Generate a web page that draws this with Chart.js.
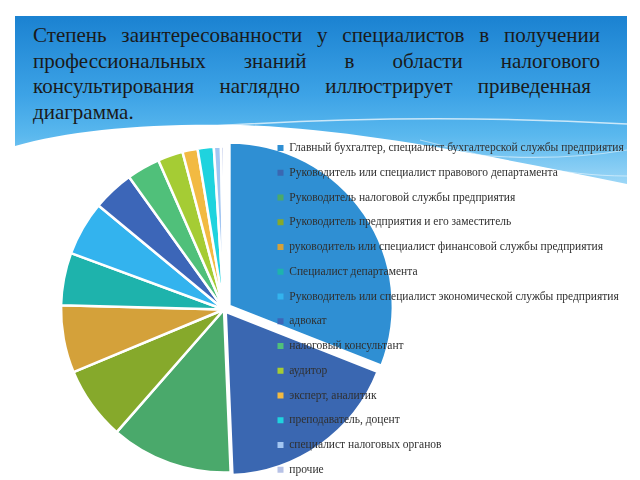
<!DOCTYPE html>
<html>
<head>
<meta charset="utf-8">
<script src="https://cdn.jsdelivr.net/npm/chart.js@4/dist/chart.umd.min.js"></script>
<style>
  html, body { margin: 0; padding: 0; width: 640px; height: 480px; overflow: hidden; background: #fff; }
  #bg { position: absolute; left: 0; top: 0; }
  #title { position: absolute; left: 33px; top: 23px; width: 567px; font-family: "Liberation Serif", "Times New Roman", serif; font-size: 21px; line-height: 25.7px; color: #1a1a1a; }
  #title div { text-align: justify; text-align-last: justify; white-space: nowrap; }
  #title div.last { text-align-last: left; }
  #chart { position: absolute; left: 0; top: 0; }
</style>
</head>
<body>
<svg id="bg" width="640" height="480">
  <defs>
    <linearGradient id="hg" gradientUnits="userSpaceOnUse" x1="0" y1="16" x2="0" y2="192">
      <stop offset="0" stop-color="#1b82d1"/>
      <stop offset="0.45" stop-color="#3da3e6"/>
      <stop offset="0.68" stop-color="#5ab8ee"/>
      <stop offset="1" stop-color="#a8dcf8"/>
    </linearGradient>
  </defs>
  <rect x="15" y="16" width="612" height="177" fill="url(#hg)"/>
  <path d="M200,127 C330,118 480,116 627,124" fill="none" stroke="#fff" stroke-opacity="0.7" stroke-width="1.5"/>
  <path d="M330,133 C420,150 520,168 627,150" fill="none" stroke="#fff" stroke-opacity="0.5" stroke-width="1.2"/>
  <path d="M420,140 C500,160 560,176 627,176" fill="none" stroke="#fff" stroke-opacity="0.5" stroke-width="1"/>
  <path d="M15,146 C70,130 150,123 240,125 C360,129 500,158 627,184 L627,480 L15,480 Z" fill="#ffffff"/>
</svg>
<div id="title">
  <div>Степень заинтересованности у специалистов в получении</div>
  <div>профессиональных знаний в области налогового</div>
  <div style="width:558px">консультирования наглядно иллюстрирует приведенная</div>
  <div class="last">диаграмма.</div>
</div>
<canvas id="chart" width="640" height="491" style="width:640px;height:491px"></canvas>
<script>
const categories = [
  "Главный бухгалтер, специалист бухгалтерской службы предприятия",
  "Руководитель или специалист правового департамента",
  "Руководитель налоговой службы предприятия",
  "Руководитель предприятия и его заместитель",
  "руководитель или специалист финансовой службы предприятия",
  "Специалист департамента",
  "Руководитель или специалист экономической службы предприятия",
  "адвокат",
  "налоговый консультант",
  "аудитор",
  "эксперт, аналитик",
  "преподаватель, доцент",
  "специалист налоговых органов",
  "прочие"
];
const values = [31.0, 18.4, 12.1, 7.3, 6.7, 5.2, 5.4, 4.1, 3.3, 2.5, 1.5, 1.6, 0.7, 0.3];
const colors = ["#2f8fd3", "#3a67b1", "#4aa96b", "#86a92b", "#d4a13a", "#1eb3ac", "#33b3ee",
                "#3c66b8", "#50c07a", "#a5cc34", "#f2ba42", "#1fd3de", "#a3c6f2", "#b7c2e6"];
const offsets = [26, 12, 0, 0, 0, 0, 0, 0, 0, 0, 0, 0, 0, 0];

// layout helpers
const FONT_FAMILY = '"Liberation Serif", "Times New Roman", serif';
const FONT_SIZE = 11.5;
const BOX = 6;
const PAD = 13.25;
const LEGEND_LEFT = 264.25;
const PIE_CX = 224;
const mctx = document.createElement('canvas').getContext('2d');
mctx.font = 'normal ' + FONT_SIZE + 'px ' + FONT_FAMILY;
let maxText = 0;
categories.forEach(c => { maxText = Math.max(maxText, mctx.measureText(c).width); });
const legendWidth = PAD + BOX + FONT_SIZE / 2 + maxText + 10;
const padRight = 640 - LEGEND_LEFT - legendWidth;
const padLeft = 2 * PIE_CX - LEGEND_LEFT;

const legendOnTop = {
  id: 'legendOnTop',
  beforeUpdate(chart) {
    if (chart.legend) {
      const lg = chart.legend;
      lg._layers = function () { return [{ z: 1, draw: (area) => lg.draw(area) }]; };
    }
  }
};

new Chart(document.getElementById('chart'), {
  type: 'pie',
  data: {
    labels: categories,
    datasets: [{
      data: values,
      backgroundColor: colors,
      borderColor: '#ffffff',
      borderWidth: 2.5,
      offset: offsets,
      radius: 163,
      clip: false
    }]
  },
  plugins: [legendOnTop],
  options: {
    responsive: false,
    animation: false,
    layout: { autoPadding: false, padding: { top: 129, bottom: 1, left: padLeft, right: padRight } },
    plugins: {
      tooltip: { enabled: false },
      legend: {
        position: 'right',
        align: 'start',
        maxWidth: 640,
        labels: {
          boxWidth: BOX,
          boxHeight: BOX,
          padding: PAD,
          color: '#303030',
          font: { family: FONT_FAMILY, size: FONT_SIZE },
          generateLabels: (chart) => Chart.overrides.doughnut.plugins.legend.labels.generateLabels(chart)
            .map(l => Object.assign(l, { lineWidth: 0 }))
        }
      }
    }
  }
});
</script>
</body>
</html>
